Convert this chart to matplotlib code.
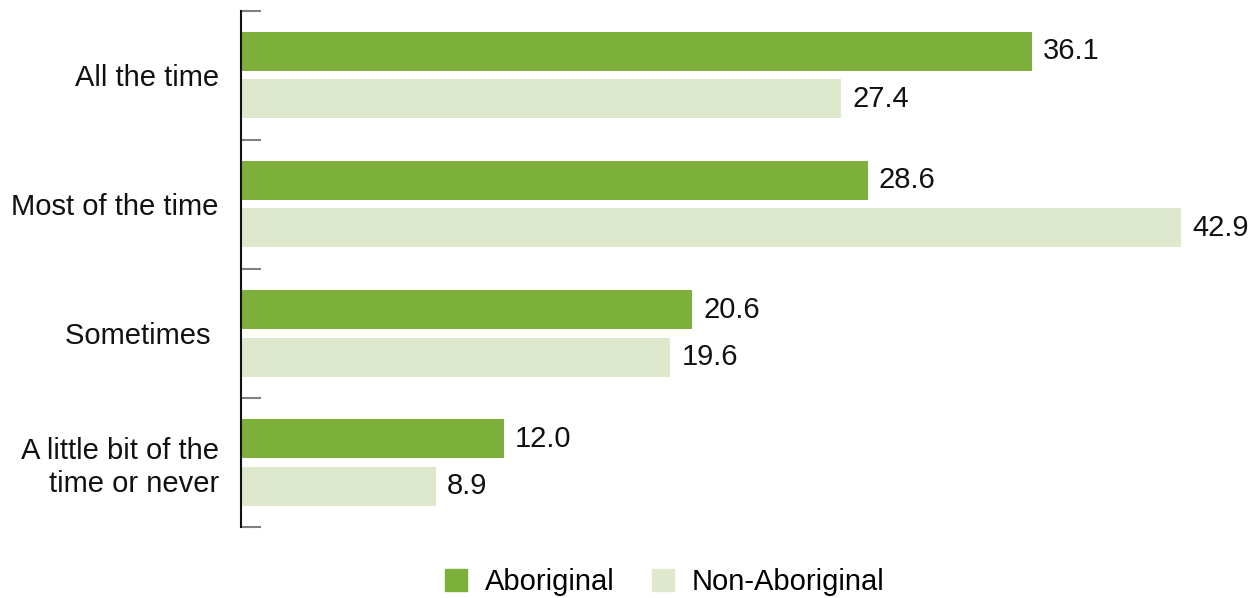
import numpy as np
import matplotlib.pyplot as plt
from matplotlib.patches import Patch

plt.rcParams['font.family'] = ['Liberation Sans', 'DejaVu Sans']

categories = ['All the time', 'Most of the time', 'Sometimes ', 'A little bit of the\ntime or never']
aboriginal = [36.1, 28.6, 20.6, 12.0]
non_aboriginal = [27.4, 42.9, 19.6, 8.9]

dark = '#7DB03B'
light = '#DEE8CC'
fs = 21

W, H = 1254, 598
fig = plt.figure(figsize=(W / 100, H / 100), dpi=100)
ax = fig.add_axes([241 / W, 1 - 527 / H, 1 - 241 / W, (527 - 10.5) / H])

y = np.arange(len(categories))
off = 0.184
h = 0.302
ax.barh(y - off, aboriginal, height=h, color=dark)
ax.barh(y + off, non_aboriginal, height=h, color=light)

for i in range(len(categories)):
    ax.text(aboriginal[i] + 0.5, y[i] - off, f'{aboriginal[i]:.1f}',
            va='center', ha='left', fontsize=fs, color='#111111')
    ax.text(non_aboriginal[i] + 0.5, y[i] + off, f'{non_aboriginal[i]:.1f}',
            va='center', ha='left', fontsize=fs, color='#111111')

ax.set_xlim(0, (W - 241) / 21.91)
ax.set_ylim(len(categories) - 0.5, -0.5)

ax.set_yticks(y)
ax.set_yticklabels(categories, fontsize=fs, color='#111111', ha='right')
ax.tick_params(axis='y', which='major', length=0, pad=16)
ax.set_yticks(np.arange(-0.5, len(categories)), minor=True)
ax.tick_params(axis='y', which='minor', direction='in', length=14.5, width=1.5, color='#808080')
ax.set_xticks([])

for s in ['top', 'right', 'bottom']:
    ax.spines[s].set_visible(False)
ax.spines['left'].set_linewidth(1.5)
ax.spines['left'].set_color('#111111')

handles = [Patch(color=dark, label='Aboriginal'), Patch(color=light, label='Non-Aboriginal')]
fig.legend(handles=handles, loc='center', bbox_to_anchor=(665 / W, 1 - 582 / H), ncol=2,
           frameon=False, fontsize=fs, handlelength=0.75, handleheight=0.75,
           handletextpad=0.6, columnspacing=1.3)

fig.savefig('out.png', dpi=100)
